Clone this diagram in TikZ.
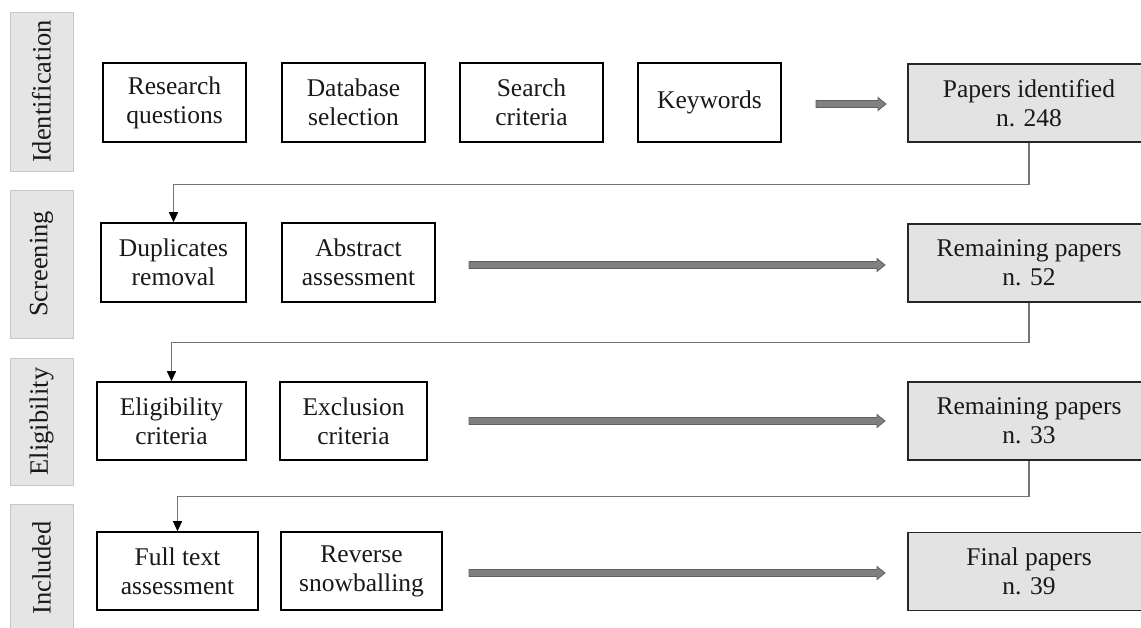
\documentclass[tikz,border=0pt]{standalone}
\usepackage{fontspec}
\setmainfont{Liberation Serif}
\usetikzlibrary{arrows.meta}
\newcommand{\myblockarrow}[3]{%
  \draw[arrowfill] (#1,#3-3.5) -- (#2-8,#3-3.5) -- (#2-8,#3-6.5) -- (#2,#3) -- (#2-8,#3+6.5) -- (#2-8,#3+3.5) -- (#1,#3+3.5) -- cycle;}
\begin{document}
\begin{tikzpicture}[x=1pt,y=-1pt,
  every node/.style={font=\fontsize{25.5}{29}\selectfont, align=center, inner sep=0pt, text=black!90},
  stepbox/.style={draw=black, line width=1.6pt, fill=white, minimum height=79pt},
  resultbox/.style={draw=black!85, line width=1.6pt, fill=black!11, minimum width=242pt, minimum height=78pt},
  phase/.style={draw=black!22, line width=0.8pt, fill=black!10, rotate=90, minimum height=63pt, font=\fontsize{26.5}{29}\selectfont},
  conn/.style={draw=black!55, line width=1.1pt, -{Triangle[length=10pt,width=9pt,fill=black,color=black]}},
  arrowfill/.style={fill=black!50, draw=black!62, line width=0.8pt},
]
\clip (0,0) rectangle (1141,628);
\useasboundingbox (0,0) rectangle (1141,628);

% phase labels
\node[phase, minimum width=159pt] (ph1) at (41.5,91.5) {Identification};
\node[phase, minimum width=148pt] (ph2) at (41.5,264) {Screening};
\node[phase, minimum width=127pt] (ph3) at (41.5,421.5) {Eligibility};
\node[phase, minimum width=128pt] (ph4) at (41.5,568) {Included};

% row 1
\node[stepbox, minimum width=143pt] (rq) at (174.5,102.5) {Research\\questions};
\node[stepbox, minimum width=143pt] (db) at (353.5,102.5) {Database\\selection};
\node[stepbox, minimum width=143pt] (sc) at (531.5,102.5) {Search\\criteria};
\node[stepbox, minimum width=143pt] (kw) at (709.5,102.5) {Keywords};
\node[resultbox] (pi) at (1029,103) {Papers identified\\n. 248};
\myblockarrow{816}{886}{104}

% row 2
\node[stepbox, minimum width=145pt] (dup) at (173.5,262.5) {Duplicates\\removal};
\node[stepbox, minimum width=153pt] (abs) at (358.5,262.5) {Abstract\\assessment};
\node[resultbox] (rp1) at (1029,263) {Remaining papers\\n. 52};
\myblockarrow{469}{885}{265}

% row 3
\node[stepbox, minimum width=149pt, minimum height=78pt] (elig) at (171.5,421) {Eligibility\\criteria};
\node[stepbox, minimum width=147pt, minimum height=78pt] (excl) at (353.5,421) {Exclusion\\criteria};
\node[resultbox] (rp2) at (1029,421) {Remaining papers\\n. 33};
\myblockarrow{469}{885}{421}

% row 4
\node[stepbox, minimum width=161pt, minimum height=78pt] (ft) at (177.5,571) {Full text\\assessment};
\node[stepbox, minimum width=161pt, minimum height=78pt] (rev) at (361.5,571) {Reverse\\snowballing};
\node[resultbox] (fp) at (1029,571.5) {Final papers\\n. 39};
\myblockarrow{469}{885}{573}

% connectors
\draw[conn] (pi.south) -- ++(0,42) -| (dup.north);
\draw[conn] (rp1.south) -- ++(0,40) -| (elig.north);
\draw[conn] (rp2.south) -- ++(0,36) -| (ft.north);
\end{tikzpicture}
\end{document}
